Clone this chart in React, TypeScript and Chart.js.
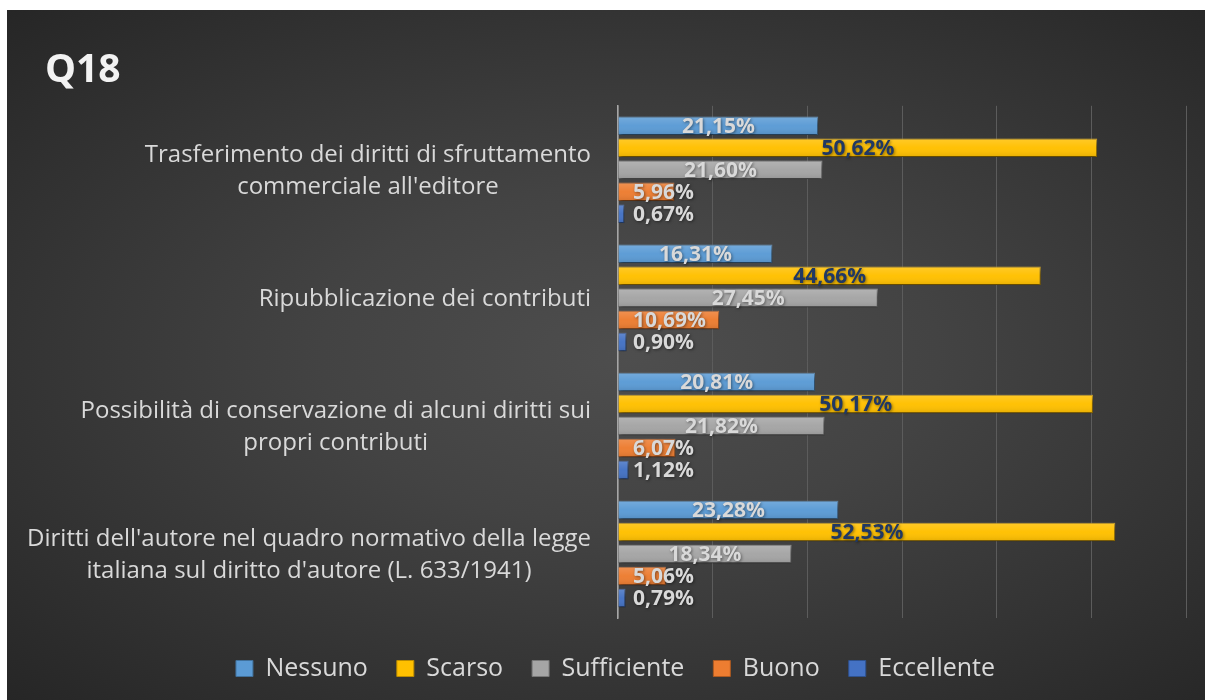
import React, { useEffect, useRef } from "react";
import { Chart, registerables } from "chart.js";

Chart.register(...registerables);

const titleText = "Q18";
const categories: string[][] = [
  ["Trasferimento dei diritti di sfruttamento", "commerciale all'editore"],
  ["Ripubblicazione dei contributi"],
  ["Possibilità di conservazione di alcuni diritti sui", "propri contributi"],
  ["Diritti dell'autore nel quadro normativo della legge", "italiana sul diritto d'autore (L. 633/1941)"],
];
const seriesNames = ["Nessuno", "Scarso", "Sufficiente", "Buono", "Eccellente"];
const nessuno = [21.15, 16.31, 20.81, 23.28];
const scarso = [50.62, 44.66, 50.17, 52.53];
const sufficiente = [21.6, 27.45, 21.82, 18.34];
const buono = [5.96, 10.69, 6.07, 5.06];
const eccellente = [0.67, 0.9, 1.12, 0.79];
const xTicks = [0, 10, 20, 30, 40, 50, 60];

const seriesColors = ["#5b9bd5", "#ffc000", "#a5a5a5", "#ed7d31", "#4472c4"];
const seriesBorders = ["#41719c", "#bc8c00", "#787878", "#ae5a21", "#2f528f"];
const labelColors = ["#d9d9d9", "#203864", "#d9d9d9", "#d9d9d9", "#d9d9d9"];

const FONT = '"Open Sans", "Noto Sans", sans-serif';

const fmt = (v: number) => v.toFixed(2).replace(".", ",") + "%";

const decorPlugin = {
  id: "decor",
  beforeDatasetsDraw(chart: any) {
    const ctx = chart.ctx;
    ctx.save();
    ctx.shadowColor = "rgba(0,0,0,0.55)";
    ctx.shadowBlur = 4;
    ctx.shadowOffsetX = 1;
    ctx.shadowOffsetY = 2;
  },
  afterDatasetsDraw(chart: any) {
    const ctx = chart.ctx;
    ctx.restore();
    const area = chart.chartArea;
    chart.data.datasets.forEach((_: any, di: number) => {
      const meta = chart.getDatasetMeta(di);
      meta.data.forEach((el: any) => {
        const top = el.y - el.height / 2;
        const bottom = el.y + el.height / 2;
        const left = Math.min(el.base, el.x);
        const right = Math.max(el.base, el.x);
        const g = ctx.createLinearGradient(0, top, 0, bottom);
        g.addColorStop(0, "rgba(255,255,255,0.16)");
        g.addColorStop(0.5, "rgba(255,255,255,0.02)");
        g.addColorStop(1, "rgba(0,0,0,0.10)");
        ctx.fillStyle = g;
        ctx.fillRect(left, top, right - left, bottom - top);
      });
    });
    ctx.save();
    ctx.font = `bold 21px ${FONT}`;
    ctx.textBaseline = "middle";
    ctx.textAlign = "center";
    chart.data.datasets.forEach((ds: any, di: number) => {
      const meta = chart.getDatasetMeta(di);
      meta.data.forEach((el: any, i: number) => {
        const text = fmt(ds.data[i]);
        const w = ctx.measureText(text).width;
        let cx = (el.base + el.x) / 2;
        cx = Math.max(cx, area.left + 15 + w / 2);
        ctx.shadowColor = "rgba(0,0,0,0.45)";
        ctx.shadowBlur = 3;
        ctx.shadowOffsetX = 1;
        ctx.shadowOffsetY = 1;
        ctx.fillStyle = labelColors[di];
        ctx.fillText(text, cx, el.y + 1);
      });
    });
    ctx.restore();
  },
  afterDraw(chart: any) {
    const ctx = chart.ctx;
    const area = chart.chartArea;
    const yScale = chart.scales.y;
    ctx.save();
    ctx.font = `24px ${FONT}`;
    ctx.fillStyle = "#d9d9d9";
    ctx.textBaseline = "middle";
    ctx.textAlign = "center";
    const right = area.left - 27;
    const lineH = 32;
    (chart.data.labels as string[][]).forEach((lines, i) => {
      const cy = yScale.getPixelForValue(i);
      const blockW = Math.max(...lines.map((l) => ctx.measureText(l).width));
      const cx = right - blockW / 2;
      const start = cy - ((lines.length - 1) * lineH) / 2 + 1;
      lines.forEach((l, k) => ctx.fillText(l, cx, start + k * lineH));
    });
    ctx.restore();
  },
};

export default function App() {
  const canvasRef = useRef<HTMLCanvasElement | null>(null);

  useEffect(() => {
    if (!canvasRef.current) return;
    const series = [nessuno, scarso, sufficiente, buono, eccellente];
    const chart = new Chart(canvasRef.current, {
      type: "bar",
      data: {
        labels: categories as any,
        datasets: series.map((d, i) => ({
          label: seriesNames[i],
          data: d,
          backgroundColor: seriesColors[i],
          borderColor: seriesBorders[i],
          borderWidth: 1,
          categoryPercentage: 0.86,
          barPercentage: 0.84,
        })),
      },
      options: {
        indexAxis: "y",
        responsive: true,
        maintainAspectRatio: false,
        animation: false,
        layout: { padding: { left: 38, right: 19, top: 0, bottom: 9 } },
        scales: {
          x: {
            type: "linear",
            min: 0,
            max: 60,
            afterBuildTicks: (scale: any) => {
              scale.ticks = xTicks.map((v) => ({ value: v }));
            },
            afterFit: (scale: any) => {
              scale.height = 9;
            },
            ticks: { display: false },
            grid: { color: "#5c5c5c", lineWidth: 1, drawTicks: false },
            border: { display: false },
          },
          y: {
            type: "category",
            afterFit: (scale: any) => {
              scale.width = 573;
            },
            ticks: { display: false },
            grid: { display: false, drawTicks: false },
            border: { display: true, color: "#a6a6a6", width: 1.5 },
          },
        },
        plugins: {
          title: {
            display: true,
            text: titleText,
            align: "start",
            color: "#f2f2f2",
            font: { family: FONT, size: 39, weight: "bold" },
            padding: { top: 37, bottom: 12 },
          },
          legend: {
            display: true,
            position: "bottom",
            labels: {
              color: "#d9d9d9",
              font: { family: FONT, size: 25 },
              boxWidth: 17,
              boxHeight: 16,
              padding: 29,
            },
          },
          tooltip: { enabled: false },
        },
      },
      plugins: [decorPlugin],
    } as any);
    return () => chart.destroy();
  }, []);

  return (
    <div
      style={{
        position: "fixed",
        left: 7,
        top: 10,
        width: 1198,
        height: 690,
        background:
          "radial-gradient(ellipse farthest-corner at 52% 50%, #4e4e4e 0%, #434343 35%, #262626 100%)",
      }}
    >
      <canvas ref={canvasRef} />
    </div>
  );
}
